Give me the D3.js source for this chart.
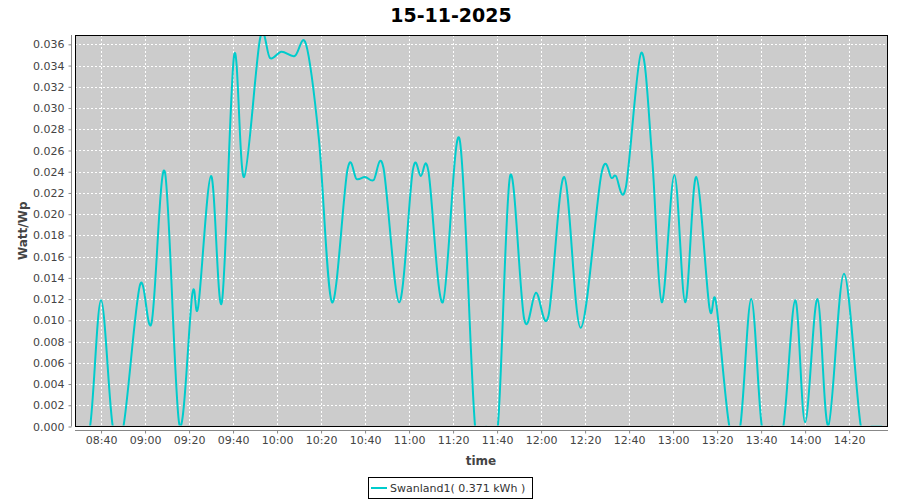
<!DOCTYPE html>
<html>
<head>
<meta charset="utf-8">
<script src="https://cdn.jsdelivr.net/npm/d3@7"></script>
<style>
  body { margin: 0; background: #fff; }
  svg { display: block; }
</style>
</head>
<body>
<svg width="900" height="500"></svg>
<script>
// readings of the day, times + W/Wp values
const times = [
  "08:30:00", "08:35:00", "08:40:00", "08:45:20", "08:50:10", "08:57:40", "09:03:00",
  "09:09:00", "09:15:35", "09:21:30", "09:24:10", "09:30:00", "09:34:55", "09:40:30",
  "09:45:00", "09:52:20", "09:56:50", "10:02:00", "10:08:00", "10:13:10", "10:19:00",
  "10:25:00", "10:32:00", "10:36:10", "10:40:00", "10:43:50", "10:48:20", "10:55:30",
  "11:01:40", "11:05:20", "11:08:50", "11:15:20", "11:22:55", "11:30:00", "11:35:00",
  "11:40:20", "11:45:55", "11:52:20", "11:57:40", "12:03:20", "12:10:30", "12:18:00",
  "12:27:25", "12:32:00", "12:34:00", "12:38:30", "12:45:30", "12:50:30", "12:54:50",
  "13:00:35", "13:05:30", "13:10:30", "13:16:30", "13:19:30", "13:25:35", "13:30:30",
  "13:35:30", "13:40:20", "13:45:00", "13:50:05", "13:55:30", "14:00:00", "14:05:35",
  "14:10:35", "14:17:40", "14:25:20", "14:30:00", "14:35:00"
];
const values = [
  0, 0, 0.0119, 0, 0, 0.0133, 0.0098,
  0.0240, 0.0002, 0.0125, 0.0113, 0.0236, 0.0117, 0.0350,
  0.0235, 0.0366, 0.0347, 0.0353, 0.0349, 0.0360, 0.0271,
  0.0117, 0.0242, 0.0233, 0.0235, 0.0232, 0.0244, 0.0117,
  0.0241, 0.0236, 0.0240, 0.0117, 0.0271, 0, 0,
  0, 0.0236, 0.0101, 0.0126, 0.0104, 0.0235, 0.0093,
  0.0238, 0.0234, 0.0236, 0.0225, 0.0352, 0.0252, 0.0117,
  0.0237, 0.0117, 0.0235, 0.0112, 0.0117, 0, 0,
  0.0120, 0, 0, 0, 0.0119, 0.0004, 0.0120,
  0.0001, 0.0144, 0, 0, 0
];
const yTicks = d3.range(0, 0.0361, 0.002);
const xTickLabels = ["08:40","09:00","09:20","09:40","10:00","10:20","10:40","11:00","11:20",
  "11:40","12:00","12:20","12:40","13:00","13:20","13:40","14:00","14:20"];
const title = "15-11-2025";
const seriesName = "Swanland1( 0.371 kWh )";

const parseT = d3.timeParse("%H:%M:%S");
const parseHM = d3.timeParse("%H:%M");
const data = times.map((t, i) => ({ t: parseT(t), v: values[i] }));

const plotLeft = 75, plotTop = 35, plotRight = 888, plotBottom = 426.5;
const width = plotRight - plotLeft, height = plotBottom - plotTop;
const col = "#00cccc";

let svg = d3.select("svg");

svg.append("text")
  .attr("x", 451).attr("y", 22)
  .attr("text-anchor", "middle")
  .attr("font-family", "DejaVu Sans")
  .attr("font-weight", "bold")
  .attr("font-size", "19px")
  .text(title);

let xScale = d3.scaleTime()
  .domain([parseT("08:28:10"), parseT("14:37:40")])
  .range([0, width]);
let yScale = d3.scaleLinear()
  .domain([0, 0.03688])
  .range([height, 0]);

let chart = svg.append("g").attr("transform", `translate(${plotLeft}, ${plotTop})`);

chart.append("rect")
  .attr("width", width).attr("height", height)
  .attr("fill", "#cccccc");

// grid
const xTickDates = xTickLabels.map(parseHM);
chart.selectAll(".vg").data(xTickDates).enter().append("line")
  .attr("x1", d => Math.round(xScale(d)) + 0.5).attr("x2", d => Math.round(xScale(d)) + 0.5)
  .attr("y1", 0).attr("y2", height)
  .attr("stroke", "#fff").attr("stroke-dasharray", "2,2");
chart.selectAll(".hg").data(yTicks).enter().append("line")
  .attr("x1", 0).attr("x2", width)
  .attr("y1", d => Math.round(yScale(d)) + 0.5).attr("y2", d => Math.round(yScale(d)) + 0.5)
  .attr("stroke", "#fff").attr("stroke-dasharray", "2,2");

chart.append("clipPath").attr("id", "clip")
  .append("rect").attr("width", width).attr("height", height - 1);

// spline look: uniform catmull-rom, dips below 0 get clipped away
let line = d3.line()
  .x(d => xScale(d.t))
  .y(d => yScale(d.v))
  .curve(d3.curveCatmullRom.alpha(0));

chart.append("path")
  .datum(data)
  .attr("clip-path", "url(#clip)")
  .attr("fill", "none")
  .attr("stroke", col)
  .attr("stroke-width", 2)
  .attr("d", line);

chart.append("rect")
  .attr("x", 0.5).attr("y", 0.5)
  .attr("width", width - 1).attr("height", height - 0.5)
  .attr("fill", "none").attr("stroke", "#000");

// axes
let yAxis = svg.append("g")
  .attr("transform", `translate(71.5, ${plotTop})`)
  .call(d3.axisLeft(yScale).tickValues(yTicks).tickFormat(d3.format(".3f"))
    .tickSizeInner(3).tickSizeOuter(0).tickPadding(4));
let xAxis = svg.append("g")
  .attr("transform", `translate(${plotLeft}, 430.5)`)
  .call(d3.axisBottom(xScale).tickValues(xTickDates).tickFormat(d3.timeFormat("%H:%M"))
    .tickSizeInner(3).tickSizeOuter(0).tickPadding(3));
[yAxis, xAxis].forEach(a => {
  a.selectAll("text").attr("font-family", "DejaVu Sans").attr("font-size", "11px").attr("fill", "#444");
  a.selectAll("line, path").attr("stroke", "#888");
});
xAxis.select(".domain").attr("d", `M0,0H${width}`);
yAxis.select(".domain").attr("d", `M0,0V${height}`);

svg.append("text")
  .attr("x", 481).attr("y", 465)
  .attr("text-anchor", "middle")
  .attr("font-family", "DejaVu Sans").attr("font-weight", "bold").attr("font-size", "12px")
  .attr("fill", "#444")
  .text("time");
svg.append("text")
  .attr("transform", `translate(27, ${plotTop + height / 2}) rotate(-90)`)
  .attr("text-anchor", "middle")
  .attr("font-family", "DejaVu Sans").attr("font-weight", "bold").attr("font-size", "12px")
  .attr("fill", "#444")
  .text("Watt/Wp");

// legend
let legend = svg.append("g");
legend.append("rect")
  .attr("x", 368.5).attr("y", 477.5).attr("width", 164).attr("height", 21)
  .attr("fill", "#fff").attr("stroke", "#000");
legend.append("line")
  .attr("x1", 371).attr("x2", 387).attr("y1", 488).attr("y2", 488)
  .attr("stroke", col).attr("stroke-width", 2);
legend.append("text")
  .attr("x", 390).attr("y", 492)
  .attr("font-family", "DejaVu Sans").attr("font-size", "11px")
  .attr("fill", "#333")
  .text(seriesName);
</script>
</body>
</html>
